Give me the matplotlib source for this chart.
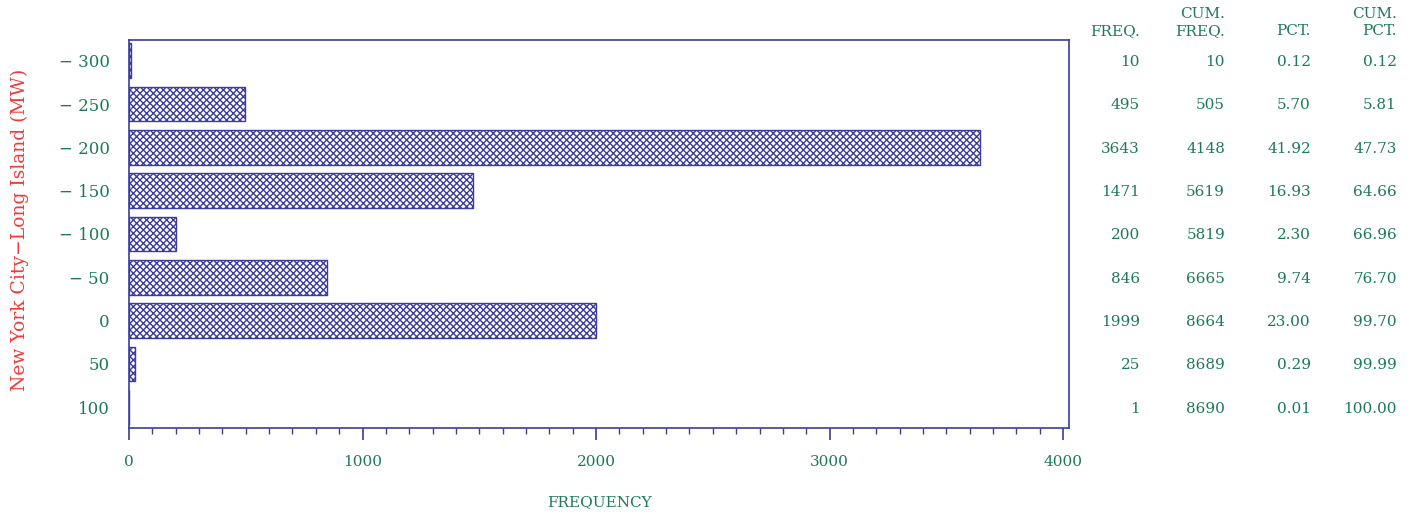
import matplotlib
matplotlib.use("Agg")
import matplotlib.pyplot as plt
import numpy as np

categories = ["\u2212 300", "\u2212 250", "\u2212 200", "\u2212 150", "\u2212 100", "\u2212 50", "0", "50", "100"]
freq = [10, 495, 3643, 1471, 200, 846, 1999, 25, 1]
cum_freq = [10, 505, 4148, 5619, 5819, 6665, 8664, 8689, 8690]
pct = ["0.12", "5.70", "41.92", "16.93", "2.30", "9.74", "23.00", "0.29", "0.01"]
cum_pct = ["0.12", "5.81", "47.73", "64.66", "66.96", "76.70", "99.70", "99.99", "100.00"]
x_ticks = [0, 1000, 2000, 3000, 4000]

W, H = 1416, 519
fig = plt.figure(figsize=(W / 100, H / 100), dpi=100)
plt.rcParams['font.family'] = ['DejaVu Serif']
plt.rcParams['hatch.linewidth'] = 1.0
plt.rcParams['hatch.color'] = '#4a4aa8'

navy = '#3c3c9c'
green = '#1d7a55'
red = '#f03a3a'

L, R, T, B = 129, 1069, 40, 428
ax = fig.add_axes([L / W, 1 - B / H, (R - L) / W, (B - T) / H])
y = np.arange(len(categories))
ax.barh(y, freq, height=0.8, color='white', edgecolor=navy, hatch='xxxxx', linewidth=1.0)
ax.set_ylim(8.48, -0.48)
ax.set_xlim(0, 4025)
for s in ax.spines.values():
    s.set_color(navy)
    s.set_linewidth(1.2)
ax.set_yticks(y)
ax.set_yticklabels(categories, color=green, fontsize=12)
ax.tick_params(axis='y', length=0, pad=14)
ax.set_xticks(x_ticks)
ax.set_xticklabels([str(v) for v in x_ticks], color=green, fontsize=11)
ax.set_xticks(np.arange(0, 4001, 100), minor=True)
ax.tick_params(axis='x', which='major', length=8.6, width=1.2, color=navy, pad=11)
ax.tick_params(axis='x', which='minor', length=4.3, width=1, color=navy)
ax.set_xlabel("FREQUENCY", color=green, fontsize=11, labelpad=19)
fig.text(20 / W, 1 - 230 / H, "New York City\u2212Long Island (MW)", rotation=90,
         color=red, fontsize=13.5, ha='center', va='center')

cols = [(1140, freq, "", "FREQ."), (1225, cum_freq, "CUM.", "FREQ."),
        (1311, pct, "", "PCT."), (1397, cum_pct, "CUM.", "PCT.")]
for xpix, vals, h1, h2 in cols:
    xf = xpix / W
    if h1:
        fig.text(xf, 1 - 14 / H, h1, color=green, fontsize=11, ha='right', va='center')
    fig.text(xf, 1 - 31 / H, h2, color=green, fontsize=11, ha='right', va='center')
    for i, v in enumerate(vals):
        ax.annotate(str(v), xy=(xf, i + 0.03), xycoords=('figure fraction', 'data'),
                    color=green, fontsize=11, ha='right', va='center', annotation_clip=False)

fig.savefig("out.png", dpi=100)
